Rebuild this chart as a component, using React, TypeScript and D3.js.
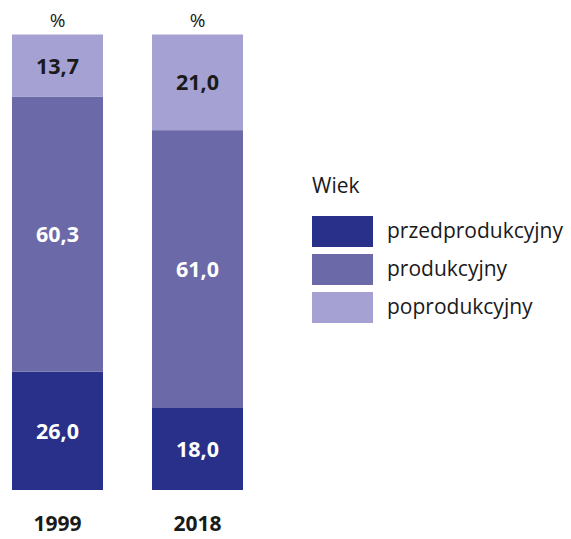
import React from "react"
import * as d3 from "d3"

const years = ["1999", "2018"]
const przedprodukcyjny = [26.0, 18.0]
const produkcyjny = [60.3, 61.0]
const poprodukcyjny = [13.7, 21.0]
const seriesNames = ["przedprodukcyjny", "produkcyjny", "poprodukcyjny"]
const colors = ["#283089", "#6c69a8", "#a5a2d3"]
const labelColors = ["#ffffff", "#ffffff", "#1a1a1a"]

const font = "'Open Sans', 'Noto Sans', sans-serif"

export default function App() {
  const width = 571
  const height = 539

  const rows = years.map((y, i) => ({
    year: y,
    przedprodukcyjny: przedprodukcyjny[i],
    produkcyjny: produkcyjny[i],
    poprodukcyjny: poprodukcyjny[i],
  }))
  const stack = d3.stack<any>().keys(seriesNames)
  const layers = stack(rows)

  const x = d3.scaleBand().domain(years).range([12, 243]).paddingInner(0.35).paddingOuter(0)
  const y = d3.scaleLinear().domain([0, 100]).range([490, 34.5])

  const fmt = (v: number) => v.toFixed(1).replace(".", ",")

  return (
    <svg width={width} height={height} style={{ position: "absolute", left: 0, top: 0 }}>
      {layers.map((layer, li) => (
        <g key={layer.key}>
          {layer.map((d, i) => (
            <g key={i}>
              <rect
                x={x(years[i])}
                y={y(d[1])}
                width={x.bandwidth()}
                height={y(d[0]) - y(d[1])}
                fill={colors[li]}
              />
              <text
                x={(x(years[i]) as number) + x.bandwidth() / 2}
                y={(y(d[0]) + y(d[1])) / 2 + 8}
                textAnchor="middle"
                fontFamily={font}
                fontWeight={700}
                fontSize={21.5}
                fill={labelColors[li]}
              >
                {fmt(d[1] - d[0])}
              </text>
            </g>
          ))}
        </g>
      ))}
      {years.map((yr) => (
        <g key={yr}>
          <text
            x={(x(yr) as number) + x.bandwidth() / 2}
            y={27}
            textAnchor="middle"
            fontFamily={font}
            fontSize={19}
            fill="#1a1a1a"
          >
            %
          </text>
          <text
            x={(x(yr) as number) + x.bandwidth() / 2}
            y={531}
            textAnchor="middle"
            fontFamily={font}
            fontWeight={700}
            fontSize={21}
            fill="#1a1a1a"
          >
            {yr}
          </text>
        </g>
      ))}
      <g>
        <text x={312} y={193} fontFamily={font} fontSize={21} fill="#1a1a1a">
          Wiek
        </text>
        {seriesNames.map((s, i) => (
          <g key={s} transform={`translate(312, ${216 + i * 38})`}>
            <rect width={61} height={31} fill={colors[i]} />
            <text x={75} y={22} fontFamily={font} fontSize={21} fill="#1a1a1a">
              {s}
            </text>
          </g>
        ))}
      </g>
    </svg>
  )
}
